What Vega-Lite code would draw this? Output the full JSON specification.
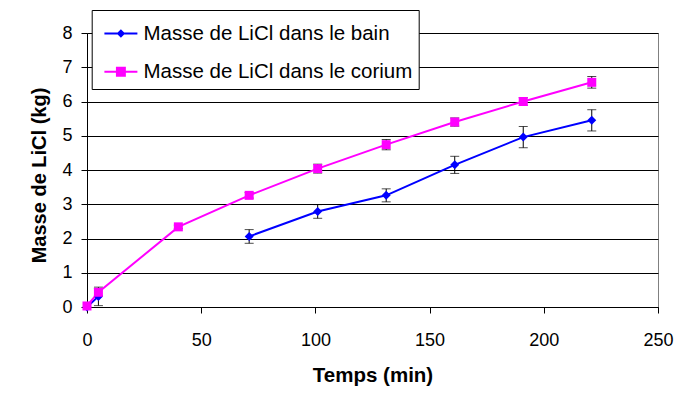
{
  "$schema": "https://vega.github.io/schema/vega-lite/v6.json",
  "width": 571,
  "height": 274,
  "autosize": {"type": "none"},
  "padding": {"left": 87, "top": 33, "right": 19, "bottom": 89},
  "background": "white",
  "config": {
    "font": "Liberation Sans",
    "view": {"stroke": "#808080", "strokeWidth": 1}
  },
  "data": {
    "values": [
      {"series": "Masse de LiCl dans le bain", "t": 0, "m": 0.0, "err": null},
      {"series": "Masse de LiCl dans le bain", "t": 5, "m": 0.31, "err": 0.27},
      {"series": "Masse de LiCl dans le bain", "t": 40, "m": null, "err": null},
      {"series": "Masse de LiCl dans le bain", "t": 71, "m": 2.06, "err": 0.2},
      {"series": "Masse de LiCl dans le bain", "t": 101, "m": 2.79, "err": 0.2},
      {"series": "Masse de LiCl dans le bain", "t": 131, "m": 3.26, "err": 0.19},
      {"series": "Masse de LiCl dans le bain", "t": 161, "m": 4.15, "err": 0.25},
      {"series": "Masse de LiCl dans le bain", "t": 191, "m": 4.96, "err": 0.31},
      {"series": "Masse de LiCl dans le bain", "t": 221, "m": 5.45, "err": 0.31},
      {"series": "Masse de LiCl dans le corium", "t": 0, "m": 0.03, "err": null},
      {"series": "Masse de LiCl dans le corium", "t": 5, "m": 0.43, "err": 0.1},
      {"series": "Masse de LiCl dans le corium", "t": 40, "m": 2.34, "err": 0.05},
      {"series": "Masse de LiCl dans le corium", "t": 71, "m": 3.26, "err": 0.08},
      {"series": "Masse de LiCl dans le corium", "t": 101, "m": 4.04, "err": 0.13},
      {"series": "Masse de LiCl dans le corium", "t": 131, "m": 4.74, "err": 0.15},
      {"series": "Masse de LiCl dans le corium", "t": 161, "m": 5.4, "err": 0.12},
      {"series": "Masse de LiCl dans le corium", "t": 191, "m": 6.0, "err": 0.11},
      {"series": "Masse de LiCl dans le corium", "t": 221, "m": 6.56, "err": 0.17}
    ]
  },
  "encoding": {
    "x": {
      "field": "t",
      "type": "quantitative",
      "scale": {"domain": [0, 250], "nice": false, "zero": false},
      "axis": {
        "values": [0, 50, 100, 150, 200, 250],
        "title": "Temps (min)",
        "grid": false,
        "labelFlush": false,
        "domainColor": "black",
        "tickColor": "black",
        "tickSize": 6,
        "labelFontSize": 18,
        "labelColor": "black",
        "labelPadding": 18,
        "labelFont": "Liberation Sans",
        "titleFont": "Liberation Sans",
        "titleFontSize": 20.5,
        "titleFontWeight": "bold",
        "titleColor": "black",
        "titleBaseline": "alphabetic",
        "titleY": 74.4
      }
    },
    "y": {
      "field": "m",
      "type": "quantitative",
      "scale": {"domain": [0, 8], "nice": false},
      "axis": {
        "values": [0, 1, 2, 3, 4, 5, 6, 7, 8],
        "title": "Masse de LiCl (kg)",
        "grid": true,
        "gridColor": "black",
        "gridOpacity": 1,
        "gridWidth": 1,
        "labelFlush": false,
        "domainColor": "black",
        "tickColor": "black",
        "tickSize": 6,
        "labelFontSize": 18,
        "labelColor": "black",
        "labelPadding": 9,
        "labelFont": "Liberation Sans",
        "titleFont": "Liberation Sans",
        "titleFontSize": 20,
        "titleFontWeight": "bold",
        "titleColor": "black",
        "titleAngle": -90,
        "titleBaseline": "alphabetic",
        "titleAlign": "center",
        "titleX": -42,
        "titleY": 142
      }
    }
  },
  "layer": [
    {
      "transform": [{"filter": "isValid(datum.err) && isValid(datum.m)"}],
      "mark": {
        "type": "errorbar",
        "ticks": {"size": 9, "color": "black", "thickness": 1},
        "rule": {"color": "black", "strokeWidth": 1}
      },
      "encoding": {
        "yError": {"field": "err"}
      }
    },
    {
      "mark": {"type": "line", "strokeWidth": 2},
      "encoding": {
        "color": {
          "field": "series",
          "type": "nominal",
          "scale": {
            "domain": ["Masse de LiCl dans le bain", "Masse de LiCl dans le corium"],
            "range": ["#0000ff", "#ff00ff"]
          },
          "legend": {
            "orient": "none",
            "legendX": 4.7,
            "legendY": -23,
            "title": null,
            "direction": "vertical",
            "labelFont": "Liberation Sans",
            "labelFontSize": 20.5,
            "labelColor": "black",
            "labelLimit": 400,
            "labelOffset": 5,
            "symbolSize": 1089,
            "symbolStrokeWidth": 2,
            "symbolOffset": 5.7,
            "rowPadding": 10.3,
            "padding": 6,
            "strokeColor": "black",
            "fillColor": "white",
            "symbolType": "M-1,0H1",
            "encode": {
              "symbols": {
                "update": {
                  "shape": {"signal": "datum.value === 'Masse de LiCl dans le bain' ? 'M-1,0H1M-0.17,0L0,-0.17L0.17,0L0,0.17Z' : 'M-1,0H1M-0.24,-0.24H0.24V0.24H-0.24Z'"},
                  "fill": {"signal": "datum.value === 'Masse de LiCl dans le bain' ? '#0000ff' : '#ff00ff'"},
                  "stroke": {"signal": "datum.value === 'Masse de LiCl dans le bain' ? '#0000ff' : '#ff00ff'"},
                  "opacity": {"value": 1}
                }
              }
            }
          }
        }
      }
    },
    {
      "transform": [{"filter": "datum.series === 'Masse de LiCl dans le bain'"}],
      "mark": {"type": "point", "filled": true, "size": 81, "opacity": 1, "shape": "diamond"},
      "encoding": {
        "color": {"field": "series", "type": "nominal", "legend": null}
      }
    },
    {
      "transform": [{"filter": "datum.series === 'Masse de LiCl dans le corium'"}],
      "mark": {"type": "point", "filled": true, "size": 81, "opacity": 1, "shape": "square"},
      "encoding": {
        "color": {"field": "series", "type": "nominal", "legend": null}
      }
    }
  ]
}
